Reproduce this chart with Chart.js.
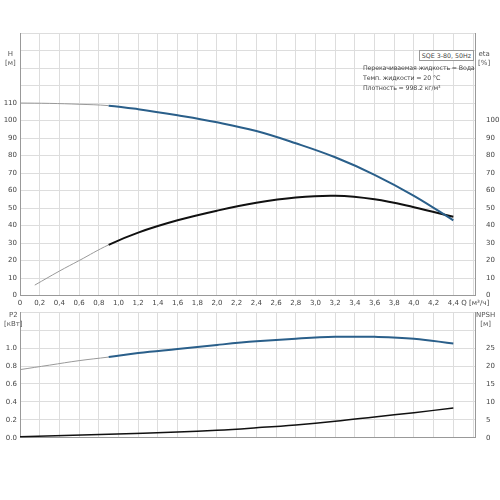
<!DOCTYPE html>
<html><head><meta charset="utf-8">
<script src="https://cdn.jsdelivr.net/npm/chart.js@4"></script>
<style>
body{margin:0;background:#fff;font-family:"DejaVu Sans",sans-serif;}
#wrap{position:relative;width:500px;height:500px;}
canvas{position:absolute;left:0;}
.lbl{position:absolute;font-size:7px;color:#555;text-align:center;line-height:9px;}
#info{position:absolute;left:363px;top:63px;font-size:6.3px;color:#444;line-height:10px;letter-spacing:-0.15px;white-space:nowrap;}
#box{position:absolute;right:26px;top:50px;font-size:6.3px;color:#444;border:1px solid #999;padding:1px 2px;background:#fff;white-space:nowrap;}
</style></head><body>
<div id="wrap">
<canvas id="top" width="500" height="310" style="top:0"></canvas>
<canvas id="bot" width="500" height="140" style="top:305px"></canvas>
<div class="lbl" style="left:5px;top:50px">H<br>[м]</div>
<div class="lbl" style="left:478px;top:50px">eta<br>[%]</div>
<div class="lbl" style="left:4px;top:311px">P2<br>[кВт]</div>
<div class="lbl" style="left:476px;top:311px">NPSH<br>[м]</div>
<div id="box">SQE 3-80, 50Hz</div>
<div id="info">Перекачиваемая жидкость = Вода<br>Темп. жидкости = 20 °C<br>Плотность = 998.2 кг/м³</div>
</div>
<script>
const qH = [0, 0.3, 0.6, 0.9, 1.2, 1.6, 2.0, 2.4, 2.8, 3.2, 3.6, 4.0, 4.4];
const H = [110, 109.8, 109.3, 108.5, 106.5, 103, 99, 94, 87, 79, 69, 57, 43];
const qEta = [0.15, 0.4, 0.6, 0.9, 1.2, 1.6, 2.0, 2.4, 2.8, 3.2, 3.6, 4.0, 4.4];
const eta = [6, 14, 20, 29, 36, 43, 48.5, 53, 56, 57, 55, 50.5, 45];
const qP = [0, 0.3, 0.6, 0.9, 1.2, 1.6, 2.0, 2.4, 2.8, 3.2, 3.6, 4.0, 4.4];
const P2 = [0.76, 0.81, 0.86, 0.90, 0.945, 0.99, 1.035, 1.075, 1.105, 1.125, 1.125, 1.105, 1.05];
const qN = [0, 0.9, 1.6, 2.0, 2.4, 2.8, 3.2, 3.6, 4.0, 4.4];
const npsh = [0.3, 1.0, 1.6, 2.1, 2.8, 3.6, 4.6, 5.8, 7.0, 8.3];
const xTicks = ['0','0,2','0,4','0,6','0,8','1,0','1,2','1,4','1,6','1,8','2,0','2,2','2,4','2,6','2,8','3,0','3,2','3,4','3,6','3,8','4,0','4,2','4,4'];

const pts = (xs, ys) => xs.map((x, i) => ({x: x, y: ys[i]}));
const seg = col => ({borderColor: c => c.p0.parsed.x < 0.9 ? '#999' : col,
                     borderWidth: c => c.p0.parsed.x < 0.9 ? 1 : 2});
const tickFont = {size: 7, family: 'DejaVu Sans'};
const grid = {color: '#ddd', drawTicks: false};
const fixW = w => s => { s.width = w; };

function xScale(showLabels) {
    return {type: 'linear', min: 0, max: 4.62, grid: grid, border: {color: '#999'},
        afterBuildTicks: s => { s.ticks = []; for (let i = 0; i <= 23; i++) s.ticks.push({value: i * 0.2}); },
        ticks: {display: showLabels, font: tickFont, color: '#444', maxRotation: 0, autoSkip: false, padding: 3,
            callback: (v, i) => i < xTicks.length ? xTicks[i] : '  Q [м³/ч]'}};
}

new Chart(document.getElementById('top'), {
    type: 'line',
    data: {datasets: [
        {data: pts(qH, H), yAxisID: 'y', segment: seg('#2a5f8a'), pointRadius: 0, tension: 0.4},
        {data: pts(qEta, eta), yAxisID: 'y2', segment: seg('#111'), pointRadius: 0, tension: 0.4}
    ]},
    options: {
        responsive: false, animation: false,
        layout: {padding: {top: 33, right: 0, left: 0}},
        plugins: {legend: {display: false}, tooltip: {enabled: false}},
        scales: {
            x: xScale(true),
            y: {min: 0, max: 150, afterFit: fixW(20), grid: grid, border: {color: '#999'},
                ticks: {stepSize: 10, font: tickFont, color: '#444', padding: 3, callback: v => v <= 110 ? v : ''}},
            y2: {position: 'right', min: 0, max: 150, afterFit: fixW(25), grid: {display: false}, border: {color: '#999'},
                ticks: {stepSize: 10, font: tickFont, color: '#444', padding: 3, callback: v => v <= 100 ? v : ''}}
        }
    }
});

new Chart(document.getElementById('bot'), {
    type: 'line',
    data: {datasets: [
        {data: pts(qP, P2), yAxisID: 'y', segment: seg('#2a5f8a'), pointRadius: 0, tension: 0.4},
        {data: pts(qN, npsh), yAxisID: 'y2', borderColor: '#111', borderWidth: 1.5, pointRadius: 0, tension: 0.4}
    ]},
    options: {
        responsive: false, animation: false,
        layout: {padding: {top: 5, bottom: 1}},
        plugins: {legend: {display: false}, tooltip: {enabled: false}},
        scales: {
            x: xScale(false),
            y: {min: 0, max: 1.4, afterFit: fixW(20), grid: grid, border: {color: '#999'},
                ticks: {stepSize: 0.2, font: tickFont, color: '#444', padding: 3,
                    callback: v => v <= 1.01 ? v.toFixed(1) : ''}},
            y2: {position: 'right', min: 0, max: 35, afterFit: fixW(25), grid: {display: false}, border: {color: '#999'},
                ticks: {stepSize: 5, font: tickFont, color: '#444', padding: 3, callback: v => v <= 25 ? v : ''}}
        }
    }
});
</script>
</body></html>
